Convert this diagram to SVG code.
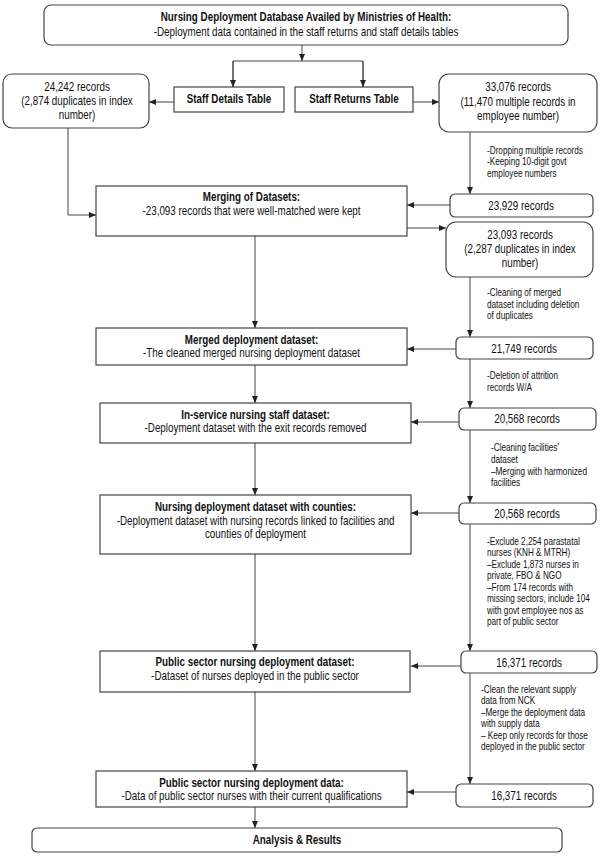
<svg xmlns="http://www.w3.org/2000/svg" width="600" height="856" viewBox="0 0 600 856">
<style>
text{font-family:"Liberation Sans",Arial,sans-serif;fill:#111}
.t{font-size:12px;text-anchor:middle}
.b{font-weight:bold}
.n{font-size:10px}
.box{fill:#fff;stroke:#444;stroke-width:1.2}
.c{fill:none;stroke:#444;stroke-width:1}
</style>
<defs>
<marker id="ah" markerUnits="userSpaceOnUse" markerWidth="7" markerHeight="6" refX="7" refY="3" orient="auto">
<path d="M0,0 L7,3 L0,6 z" fill="#222"/>
</marker>
</defs>
<g id="connectors">
<path class="c" d="M302,45 V61" marker-end="url(#ah)"/>
<path class="c" d="M233,87 V61 H363 V87" />
<path class="c" d="M233,61 V87" marker-end="url(#ah)"/>
<path class="c" d="M363,61 V87" marker-end="url(#ah)"/>
<path class="c" d="M174,102 H149" marker-end="url(#ah)"/>
<path class="c" d="M413,102 H439" marker-end="url(#ah)"/>
<path class="c" d="M68,128 V215 H96" marker-end="url(#ah)"/>
<path class="c" d="M470,132 V194" marker-end="url(#ah)"/>
<path class="c" d="M450,205 H407" marker-end="url(#ah)"/>
<path class="c" d="M407,228 H446" marker-end="url(#ah)"/>
<path class="c" d="M470,277 V337" marker-end="url(#ah)"/>
<path class="c" d="M456,349 H407" marker-end="url(#ah)"/>
<path class="c" d="M255,236 V328" marker-end="url(#ah)"/>
<path class="c" d="M470,359 V408" marker-end="url(#ah)"/>
<path class="c" d="M459,422 H411" marker-end="url(#ah)"/>
<path class="c" d="M255,365 V403" marker-end="url(#ah)"/>
<path class="c" d="M470,430 V503" marker-end="url(#ah)"/>
<path class="c" d="M459,513 H411" marker-end="url(#ah)"/>
<path class="c" d="M255,443 V495" marker-end="url(#ah)"/>
<path class="c" d="M470,524 V651" marker-end="url(#ah)"/>
<path class="c" d="M461,666 H411" marker-end="url(#ah)"/>
<path class="c" d="M255,554 V651" marker-end="url(#ah)"/>
<path class="c" d="M470,673 V784" marker-end="url(#ah)"/>
<path class="c" d="M456,792 H407" marker-end="url(#ah)"/>
<path class="c" d="M255,692 V771" marker-end="url(#ah)"/>
<path class="c" d="M255,807 V828" marker-end="url(#ah)"/>
</g>
<g id="notes">
<text class="n" transform="matrix(0.82,0,0,1,487,153.5)">-Dropping multiple records</text>
<text class="n" transform="matrix(0.82,0,0,1,487,165)">-Keeping 10-digit govt</text>
<text class="n" transform="matrix(0.82,0,0,1,487,176.5)">employee numbers</text>
<text class="n" transform="matrix(0.82,0,0,1,487,296)">-Cleaning of merged</text>
<text class="n" transform="matrix(0.82,0,0,1,487,307.5)">dataset including deletion</text>
<text class="n" transform="matrix(0.82,0,0,1,487,319)">of duplicates</text>
<text class="n" transform="matrix(0.82,0,0,1,487,379)">-Deletion of attrition</text>
<text class="n" transform="matrix(0.82,0,0,1,487,391)">records W/A</text>
<text class="n" transform="matrix(0.82,0,0,1,491,451)">-Cleaning facilities'</text>
<text class="n" transform="matrix(0.82,0,0,1,491,463)">dataset</text>
<text class="n" transform="matrix(0.82,0,0,1,491,475)">–Merging with harmonized</text>
<text class="n" transform="matrix(0.82,0,0,1,491,486)">facilities</text>
<text class="n" transform="matrix(0.82,0,0,1,487,544.5)">-Exclude 2,254 parastatal</text>
<text class="n" transform="matrix(0.82,0,0,1,487,556)">nurses (KNH &amp; MTRH)</text>
<text class="n" transform="matrix(0.82,0,0,1,487,567.5)">–Exclude 1,873 nurses in</text>
<text class="n" transform="matrix(0.82,0,0,1,487,579)">private, FBO &amp; NGO</text>
<text class="n" transform="matrix(0.82,0,0,1,487,590.5)">–From 174 records with</text>
<text class="n" transform="matrix(0.82,0,0,1,487,602)">missing sectors, include 104</text>
<text class="n" transform="matrix(0.82,0,0,1,487,613.5)">with govt employee nos as</text>
<text class="n" transform="matrix(0.82,0,0,1,487,625)">part of public sector</text>
<text class="n" transform="matrix(0.82,0,0,1,481,692.5)">-Clean the relevant supply</text>
<text class="n" transform="matrix(0.82,0,0,1,481,704)">data from NCK</text>
<text class="n" transform="matrix(0.82,0,0,1,481,715.5)">–Merge the deployment data</text>
<text class="n" transform="matrix(0.82,0,0,1,481,727)">with supply data</text>
<text class="n" transform="matrix(0.82,0,0,1,481,738.5)">– Keep only records for those</text>
<text class="n" transform="matrix(0.82,0,0,1,481,750)">deployed in the public sector</text>
</g>
<g id="n-top">
<rect class="box" x="44" y="5" width="524" height="40" rx="7"/>
<text class="t b" transform="matrix(0.82,0,0,1,306,21)">Nursing Deployment Database Availed by Ministries of Health:</text>
<text class="t" transform="matrix(0.82,0,0,1,306,36)">-Deployment data contained in the staff returns and staff details tables</text>
</g>
<g id="n-staff-details">
<rect class="box" x="174" y="87" width="110" height="25"/>
<text class="t b" transform="matrix(0.82,0,0,1,229,103)">Staff Details Table</text>
</g>
<g id="n-staff-returns">
<rect class="box" x="295" y="87" width="118" height="25"/>
<text class="t b" transform="matrix(0.82,0,0,1,354,103)">Staff Returns Table</text>
</g>
<g id="n-24242">
<rect class="box" x="3" y="74" width="146" height="54" rx="9"/>
<text class="t" transform="matrix(0.82,0,0,1,77,91)">24,242 records</text>
<text class="t" transform="matrix(0.82,0,0,1,77,105)">(2,874 duplicates in index</text>
<text class="t" transform="matrix(0.82,0,0,1,77,119)">number)</text>
</g>
<g id="n-33076">
<rect class="box" x="439" y="74" width="158" height="58" rx="10"/>
<text class="t" transform="matrix(0.82,0,0,1,518,91)">33,076 records</text>
<text class="t" transform="matrix(0.82,0,0,1,518,106)">(11,470 multiple records in</text>
<text class="t" transform="matrix(0.82,0,0,1,518,120)">employee number)</text>
</g>
<g id="n-23929">
<rect class="box" x="450" y="194" width="143" height="23" rx="5"/>
<text class="t" transform="matrix(0.82,0,0,1,521,210)">23,929 records</text>
</g>
<g id="n-merging">
<rect class="box" x="96" y="186" width="311" height="50"/>
<text class="t b" transform="matrix(0.82,0,0,1,251.5,201)">Merging of Datasets:</text>
<text class="t" transform="matrix(0.82,0,0,1,251.5,215)">-23,093 records that were well-matched were kept</text>
</g>
<g id="n-23093">
<rect class="box" x="446" y="222" width="147" height="55" rx="10"/>
<text class="t" transform="matrix(0.82,0,0,1,520,239)">23,093 records</text>
<text class="t" transform="matrix(0.82,0,0,1,520,253)">(2,287 duplicates in index</text>
<text class="t" transform="matrix(0.82,0,0,1,520,267)">number)</text>
</g>
<g id="n-21749">
<rect class="box" x="456" y="337" width="137" height="22" rx="5"/>
<text class="t" transform="matrix(0.82,0,0,1,524,352.5)">21,749 records</text>
</g>
<g id="n-merged">
<rect class="box" x="96" y="328" width="311" height="37"/>
<text class="t b" transform="matrix(0.82,0,0,1,251.5,344)">Merged deployment dataset:</text>
<text class="t" transform="matrix(0.82,0,0,1,251.5,357)">-The cleaned merged nursing deployment dataset</text>
</g>
<g id="n-20568a">
<rect class="box" x="459" y="408" width="137" height="22" rx="5"/>
<text class="t" transform="matrix(0.82,0,0,1,527,423)">20,568 records</text>
</g>
<g id="n-inservice">
<rect class="box" x="100" y="403" width="311" height="40"/>
<text class="t b" transform="matrix(0.82,0,0,1,255.5,419)">In-service nursing staff dataset:</text>
<text class="t" transform="matrix(0.82,0,0,1,255.5,432)">-Deployment dataset with the exit records removed</text>
</g>
<g id="n-20568b">
<rect class="box" x="459" y="503" width="137" height="21" rx="5"/>
<text class="t" transform="matrix(0.82,0,0,1,527,518)">20,568 records</text>
</g>
<g id="n-counties">
<rect class="box" x="100" y="495" width="311" height="59"/>
<text class="t b" transform="matrix(0.82,0,0,1,255.5,511)">Nursing deployment dataset with counties:</text>
<text class="t" transform="matrix(0.82,0,0,1,255.5,525)">-Deployment dataset with nursing records linked to facilities and</text>
<text class="t" transform="matrix(0.82,0,0,1,255.5,538)">counties of deployment</text>
</g>
<g id="n-16371a">
<rect class="box" x="461" y="651" width="136" height="22" rx="5"/>
<text class="t" transform="matrix(0.82,0,0,1,529,667)">16,371 records</text>
</g>
<g id="n-public">
<rect class="box" x="100" y="651" width="310" height="41"/>
<text class="t b" transform="matrix(0.82,0,0,1,255,666)">Public sector nursing deployment dataset:</text>
<text class="t" transform="matrix(0.82,0,0,1,255,680)">-Dataset of nurses deployed in the public sector</text>
</g>
<g id="n-16371b">
<rect class="box" x="456" y="784" width="137" height="23" rx="5"/>
<text class="t" transform="matrix(0.82,0,0,1,524,800)">16,371 records</text>
</g>
<g id="n-public-data">
<rect class="box" x="96" y="771" width="311" height="36"/>
<text class="t b" transform="matrix(0.82,0,0,1,251.5,787)">Public sector nursing deployment data:</text>
<text class="t" transform="matrix(0.82,0,0,1,251.5,800)">-Data of public sector nurses with their current qualifications</text>
</g>
<g id="n-analysis">
<rect class="box" x="32" y="828" width="530" height="24" rx="5"/>
<text class="t b" transform="matrix(0.82,0,0,1,297,844)">Analysis &amp; Results</text>
</g>
</svg>
